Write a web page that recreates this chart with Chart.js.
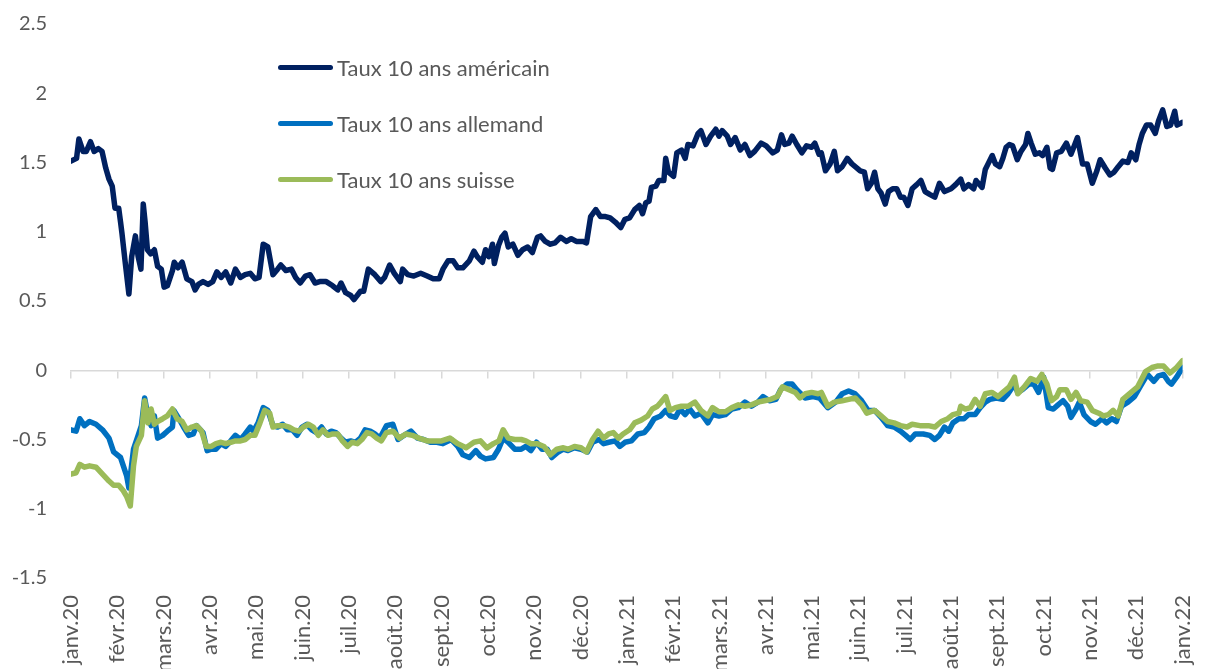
<!DOCTYPE html>
<html>
<head>
<meta charset="utf-8">
<script src="https://cdn.jsdelivr.net/npm/chart.js@4.4.1/dist/chart.umd.min.js"></script>
<style>
  html, body { margin: 0; padding: 0; background: #fff; }
  #wrap { position: relative; width: 1226px; height: 669px; overflow: hidden; }
  #legend { position: absolute; left: 278px; top: 53px; font-family: Lato, sans-serif; font-size: 22px; color: #595959; }
  .item { display: flex; align-items: center; height: 28px; margin-bottom: 28px; white-space: nowrap; }
  .swatch { width: 55px; height: 5px; border-radius: 3px; margin-right: 4px; }
</style>
</head>
<body>
<div id="wrap">
  <canvas id="chart" width="1226" height="669"></canvas>
  <div id="legend"></div>
</div>
<script>
// x = months since janv.20
const monthLabels = ['janv.20', 'févr.20', 'mars.20', 'avr.20', 'mai.20', 'juin.20', 'juil.20', 'août.20', 'sept.20', 'oct.20', 'nov.20', 'déc.20',
  'janv.21', 'févr.21', 'mars.21', 'avr.21', 'mai.21', 'juin.21', 'juil.21', 'août.21', 'sept.21', 'oct.21', 'nov.21', 'déc.21', 'janv.22'];

const seriesNames = ['Taux 10 ans américain', 'Taux 10 ans allemand', 'Taux 10 ans suisse'];

const usRate = [[0,1.51],[0.12,1.53],[0.17,1.67],[0.26,1.58],[0.33,1.58],[0.42,1.65],[0.50,1.58],[0.59,1.60],[0.67,1.58],[0.75,1.46],
  [0.82,1.38],[0.89,1.33],[0.95,1.17],[1.03,1.17],[1.07,1.07],[1.10,0.99],[1.17,0.78],[1.25,0.55],[1.31,0.82],[1.39,0.97],
  [1.45,0.82],[1.51,0.73],[1.56,1.20],[1.60,1.07],[1.65,0.87],[1.72,0.84],[1.80,0.87],[1.87,0.75],[1.95,0.73],[2.01,0.60],
  [2.08,0.61],[2.19,0.72],[2.23,0.78],[2.31,0.74],[2.40,0.78],[2.50,0.66],[2.61,0.64],[2.68,0.58],[2.75,0.62],[2.85,0.64],
  [2.96,0.62],[3.06,0.64],[3.15,0.71],[3.24,0.67],[3.34,0.71],[3.45,0.63],[3.55,0.73],[3.66,0.67],[3.76,0.69],[3.87,0.70],
  [3.97,0.66],[4.06,0.67],[4.15,0.91],[4.25,0.89],[4.36,0.69],[4.46,0.73],[4.53,0.76],[4.64,0.72],[4.76,0.73],[4.85,0.67],
  [4.95,0.63],[5.06,0.68],[5.16,0.69],[5.27,0.63],[5.37,0.64],[5.51,0.64],[5.65,0.61],[5.76,0.58],[5.83,0.63],[5.93,0.56],
  [6.04,0.54],[6.11,0.51],[6.25,0.57],[6.32,0.57],[6.42,0.73],[6.56,0.69],[6.69,0.64],[6.77,0.67],[6.88,0.76],[6.98,0.70],
  [7.11,0.64],[7.16,0.73],[7.27,0.69],[7.40,0.68],[7.55,0.70],[7.69,0.68],[7.82,0.66],[7.95,0.66],[8.03,0.73],[8.14,0.79],
  [8.25,0.79],[8.35,0.74],[8.46,0.74],[8.60,0.79],[8.70,0.86],[8.77,0.82],[8.88,0.78],[8.95,0.87],[9.02,0.82],[9.10,0.91],
  [9.14,0.77],[9.23,0.90],[9.30,0.96],[9.37,0.99],[9.44,0.89],[9.54,0.91],[9.65,0.83],[9.75,0.87],[9.86,0.89],[9.96,0.85],
  [10.07,0.96],[10.14,0.97],[10.24,0.93],[10.35,0.91],[10.45,0.92],[10.57,0.96],[10.70,0.93],[10.80,0.95],[10.91,0.93],[11.05,0.93],
  [11.13,0.92],[11.22,1.11],[11.33,1.16],[11.43,1.11],[11.54,1.11],[11.64,1.10],[11.75,1.07],[11.87,1.03],[11.96,1.09],[12.06,1.10],
  [12.17,1.16],[12.27,1.19],[12.34,1.13],[12.41,1.21],[12.48,1.22],[12.53,1.32],[12.63,1.33],[12.69,1.37],[12.80,1.37],[12.84,1.53],
  [12.90,1.43],[13.01,1.40],[13.08,1.57],[13.18,1.59],[13.26,1.53],[13.32,1.63],[13.43,1.62],[13.54,1.71],[13.60,1.73],[13.71,1.63],
  [13.81,1.69],[13.92,1.74],[13.99,1.69],[14.06,1.73],[14.17,1.69],[14.24,1.63],[14.34,1.68],[14.45,1.59],[14.55,1.63],[14.66,1.55],
  [14.76,1.58],[14.90,1.64],[15.01,1.62],[15.15,1.57],[15.25,1.59],[15.34,1.70],[15.41,1.63],[15.50,1.64],[15.57,1.69],[15.67,1.63],
  [15.78,1.57],[15.88,1.62],[15.99,1.61],[16.06,1.64],[16.15,1.56],[16.20,1.57],[16.29,1.44],[16.39,1.49],[16.48,1.58],[16.55,1.44],
  [16.65,1.47],[16.76,1.53],[16.86,1.49],[16.97,1.46],[17.04,1.44],[17.13,1.43],[17.20,1.31],[17.28,1.35],[17.35,1.43],[17.42,1.31],
  [17.49,1.28],[17.58,1.20],[17.65,1.29],[17.74,1.31],[17.83,1.31],[17.91,1.25],[17.98,1.25],[18.07,1.19],[18.16,1.31],[18.26,1.34],
  [18.35,1.37],[18.44,1.29],[18.54,1.27],[18.65,1.25],[18.75,1.35],[18.86,1.29],[19.00,1.31],[19.10,1.34],[19.21,1.38],[19.28,1.31],
  [19.38,1.34],[19.49,1.31],[19.54,1.37],[19.67,1.32],[19.74,1.45],[19.80,1.49],[19.89,1.55],[19.96,1.49],[20.05,1.47],[20.12,1.53],
  [20.19,1.61],[20.26,1.63],[20.33,1.62],[20.43,1.52],[20.51,1.58],[20.61,1.63],[20.66,1.71],[20.73,1.64],[20.82,1.56],[20.91,1.57],
  [20.98,1.55],[21.07,1.61],[21.14,1.46],[21.19,1.45],[21.28,1.57],[21.38,1.58],[21.49,1.64],[21.59,1.56],[21.66,1.62],[21.73,1.68],
  [21.84,1.49],[21.94,1.49],[22.05,1.35],[22.15,1.44],[22.22,1.52],[22.33,1.46],[22.43,1.41],[22.52,1.43],[22.61,1.47],[22.71,1.51],
  [22.82,1.50],[22.89,1.57],[22.99,1.52],[23.06,1.63],[23.13,1.71],[23.22,1.77],[23.31,1.77],[23.41,1.71],[23.48,1.80],[23.57,1.88],
  [23.66,1.76],[23.74,1.77],[23.83,1.87],[23.88,1.77],[24.00,1.79]];

const deRate = [[0,-0.43],[0.11,-0.44],[0.19,-0.35],[0.29,-0.40],[0.40,-0.37],[0.54,-0.39],[0.68,-0.43],[0.82,-0.49],[0.92,-0.59],[1.07,-0.63],
  [1.13,-0.69],[1.20,-0.76],[1.25,-0.85],[1.35,-0.57],[1.45,-0.47],[1.52,-0.40],[1.59,-0.20],[1.66,-0.33],[1.73,-0.40],[1.80,-0.33],
  [1.87,-0.49],[1.98,-0.47],[2.08,-0.44],[2.19,-0.41],[2.22,-0.29],[2.33,-0.35],[2.43,-0.41],[2.54,-0.47],[2.64,-0.46],[2.71,-0.40],
  [2.85,-0.45],[2.94,-0.58],[3.03,-0.57],[3.13,-0.57],[3.24,-0.53],[3.34,-0.55],[3.45,-0.51],[3.55,-0.47],[3.66,-0.50],[3.76,-0.46],
  [3.87,-0.41],[3.94,-0.44],[4.04,-0.38],[4.15,-0.27],[4.25,-0.29],[4.36,-0.40],[4.46,-0.41],[4.57,-0.39],[4.67,-0.43],[4.78,-0.43],
  [4.88,-0.47],[4.99,-0.41],[5.09,-0.39],[5.20,-0.43],[5.30,-0.45],[5.41,-0.41],[5.51,-0.46],[5.62,-0.44],[5.72,-0.45],[5.83,-0.49],
  [5.93,-0.52],[6.04,-0.51],[6.14,-0.52],[6.25,-0.49],[6.35,-0.43],[6.46,-0.44],[6.56,-0.46],[6.67,-0.49],[6.81,-0.40],[6.95,-0.39],
  [7.06,-0.50],[7.19,-0.47],[7.34,-0.44],[7.48,-0.49],[7.61,-0.50],[7.76,-0.52],[7.90,-0.52],[8.03,-0.53],[8.21,-0.50],[8.35,-0.55],
  [8.46,-0.61],[8.60,-0.63],[8.74,-0.58],[8.84,-0.62],[8.95,-0.64],[9.12,-0.63],[9.23,-0.57],[9.33,-0.49],[9.44,-0.52],[9.58,-0.57],
  [9.72,-0.57],[9.82,-0.55],[9.93,-0.58],[10.05,-0.52],[10.17,-0.57],[10.28,-0.57],[10.38,-0.63],[10.52,-0.59],[10.63,-0.57],[10.73,-0.58],
  [10.87,-0.56],[11.01,-0.57],[11.15,-0.59],[11.26,-0.52],[11.40,-0.50],[11.50,-0.53],[11.61,-0.52],[11.75,-0.51],[11.85,-0.55],[11.96,-0.52],
  [12.10,-0.51],[12.24,-0.46],[12.38,-0.45],[12.48,-0.41],[12.59,-0.35],[12.73,-0.33],[12.84,-0.29],[12.94,-0.33],[13.05,-0.34],[13.15,-0.28],
  [13.26,-0.32],[13.36,-0.28],[13.47,-0.33],[13.60,-0.31],[13.75,-0.38],[13.85,-0.32],[13.99,-0.33],[14.13,-0.32],[14.27,-0.28],[14.41,-0.27],
  [14.55,-0.23],[14.69,-0.26],[14.83,-0.23],[14.94,-0.19],[15.08,-0.22],[15.22,-0.21],[15.32,-0.14],[15.46,-0.10],[15.57,-0.10],[15.67,-0.14],
  [15.85,-0.20],[16.02,-0.19],[16.16,-0.20],[16.34,-0.27],[16.51,-0.23],[16.65,-0.17],[16.79,-0.15],[16.93,-0.17],[17.07,-0.22],[17.21,-0.29],
  [17.35,-0.29],[17.49,-0.34],[17.63,-0.40],[17.77,-0.41],[17.91,-0.44],[18.02,-0.47],[18.12,-0.50],[18.23,-0.46],[18.40,-0.46],[18.54,-0.47],
  [18.65,-0.50],[18.75,-0.47],[18.86,-0.41],[18.95,-0.44],[19.04,-0.38],[19.17,-0.35],[19.28,-0.35],[19.38,-0.32],[19.52,-0.32],[19.63,-0.27],
  [19.74,-0.23],[19.84,-0.21],[19.98,-0.20],[20.12,-0.21],[20.23,-0.17],[20.37,-0.10],[20.44,-0.16],[20.54,-0.14],[20.68,-0.10],[20.79,-0.10],
  [20.89,-0.16],[21.00,-0.05],[21.10,-0.27],[21.21,-0.28],[21.31,-0.25],[21.42,-0.22],[21.52,-0.26],[21.59,-0.34],[21.70,-0.28],[21.77,-0.23],
  [21.87,-0.32],[22.01,-0.37],[22.12,-0.39],[22.26,-0.35],[22.36,-0.38],[22.47,-0.35],[22.57,-0.37],[22.68,-0.26],[22.82,-0.23],[22.96,-0.19],
  [23.10,-0.11],[23.24,-0.03],[23.38,-0.08],[23.48,-0.04],[23.59,-0.03],[23.69,-0.08],[23.76,-0.10],[23.87,-0.05],[24.00,0.02]];

const chRate = [[0,-0.75],[0.11,-0.74],[0.19,-0.68],[0.29,-0.70],[0.40,-0.69],[0.54,-0.70],[0.68,-0.75],[0.82,-0.80],[0.92,-0.83],[1.03,-0.83],
  [1.13,-0.87],[1.20,-0.91],[1.28,-0.98],[1.35,-0.69],[1.41,-0.55],[1.52,-0.47],[1.59,-0.22],[1.66,-0.38],[1.73,-0.28],[1.80,-0.39],
  [1.87,-0.37],[1.98,-0.35],[2.08,-0.33],[2.19,-0.28],[2.29,-0.35],[2.40,-0.37],[2.50,-0.43],[2.61,-0.41],[2.71,-0.40],[2.82,-0.44],
  [2.92,-0.55],[3.03,-0.55],[3.13,-0.53],[3.24,-0.52],[3.34,-0.53],[3.45,-0.52],[3.55,-0.51],[3.66,-0.51],[3.76,-0.50],[3.87,-0.47],
  [3.97,-0.47],[4.08,-0.38],[4.18,-0.29],[4.29,-0.31],[4.36,-0.41],[4.46,-0.40],[4.60,-0.40],[4.71,-0.41],[4.81,-0.43],[4.92,-0.44],
  [5.02,-0.41],[5.13,-0.39],[5.23,-0.41],[5.34,-0.47],[5.44,-0.43],[5.55,-0.47],[5.65,-0.46],[5.76,-0.46],[5.86,-0.51],[5.97,-0.55],
  [6.07,-0.52],[6.18,-0.53],[6.28,-0.50],[6.39,-0.45],[6.49,-0.46],[6.60,-0.49],[6.70,-0.51],[6.81,-0.45],[6.95,-0.44],[7.09,-0.49],
  [7.23,-0.46],[7.37,-0.47],[7.51,-0.49],[7.69,-0.51],[7.82,-0.51],[8.00,-0.51],[8.18,-0.49],[8.35,-0.53],[8.53,-0.56],[8.70,-0.52],
  [8.84,-0.51],[8.98,-0.56],[9.12,-0.53],[9.24,-0.51],[9.33,-0.43],[9.44,-0.49],[9.58,-0.50],[9.72,-0.50],[9.82,-0.51],[9.93,-0.53],
  [10.07,-0.53],[10.21,-0.55],[10.35,-0.61],[10.49,-0.57],[10.63,-0.56],[10.73,-0.57],[10.87,-0.55],[11.01,-0.56],[11.13,-0.59],[11.26,-0.50],
  [11.38,-0.44],[11.50,-0.49],[11.61,-0.46],[11.71,-0.45],[11.82,-0.49],[11.92,-0.46],[12.06,-0.43],[12.17,-0.38],[12.31,-0.36],[12.45,-0.33],
  [12.55,-0.28],[12.66,-0.26],[12.74,-0.23],[12.84,-0.19],[12.93,-0.29],[13.05,-0.27],[13.18,-0.26],[13.32,-0.26],[13.47,-0.23],[13.60,-0.29],
  [13.75,-0.33],[13.85,-0.27],[13.99,-0.30],[14.13,-0.30],[14.27,-0.27],[14.41,-0.25],[14.55,-0.26],[14.69,-0.25],[14.83,-0.23],[14.97,-0.22],
  [15.11,-0.21],[15.25,-0.19],[15.36,-0.12],[15.50,-0.14],[15.64,-0.16],[15.74,-0.20],[15.85,-0.17],[15.99,-0.16],[16.13,-0.17],[16.20,-0.16],
  [16.34,-0.26],[16.48,-0.23],[16.65,-0.22],[16.79,-0.21],[16.93,-0.20],[17.07,-0.25],[17.18,-0.31],[17.35,-0.29],[17.49,-0.33],[17.63,-0.37],
  [17.77,-0.38],[17.91,-0.40],[18.05,-0.41],[18.16,-0.39],[18.33,-0.40],[18.51,-0.40],[18.65,-0.41],[18.79,-0.37],[18.93,-0.35],[19.04,-0.32],
  [19.17,-0.31],[19.21,-0.26],[19.31,-0.28],[19.42,-0.27],[19.52,-0.21],[19.63,-0.26],[19.74,-0.17],[19.88,-0.16],[20.02,-0.19],[20.12,-0.16],
  [20.26,-0.12],[20.37,-0.05],[20.44,-0.17],[20.58,-0.12],[20.72,-0.06],[20.86,-0.08],[20.96,-0.03],[21.07,-0.10],[21.17,-0.22],[21.28,-0.19],
  [21.35,-0.14],[21.49,-0.14],[21.59,-0.21],[21.70,-0.16],[21.80,-0.22],[21.94,-0.23],[22.05,-0.29],[22.19,-0.31],[22.29,-0.33],[22.40,-0.32],
  [22.50,-0.29],[22.61,-0.33],[22.71,-0.21],[22.85,-0.17],[23.03,-0.12],[23.20,-0.01],[23.34,0.02],[23.45,0.03],[23.59,0.03],[23.73,-0.02],
  [23.87,0.02],[24.00,0.07]];

const colors = ['#002060', '#0070C0', '#9BBB59'];
const textColor = '#595959';

const toXY = arr => arr.map(p => ({ x: p[0], y: p[1] }));

const chart = new Chart(document.getElementById('chart'), {
  type: 'line',
  data: {
    datasets: [usRate, deRate, chRate].map((s, i) => ({
      label: seriesNames[i],
      data: toXY(s),
      borderColor: colors[i],
      backgroundColor: colors[i],
      borderWidth: 5.5,
      pointRadius: 0,
      tension: 0,
      borderJoinStyle: 'round',
      borderCapStyle: 'round',
      xAxisID: 'x',
      order: 2 - i
    }))
  },
  options: {
    responsive: false,
    animation: false,
    layout: { padding: { top: 24, right: 13, left: 0, bottom: 0 } },
    plugins: { legend: { display: false }, tooltip: { enabled: false } },
    scales: {
      x: {
        type: 'linear',
        position: 'bottom',
        min: 0,
        max: 24,
        afterFit: scale => { scale.height = 91; },
        grid: { display: false, drawTicks: false },
        border: { display: false },
        ticks: {
          stepSize: 1,
          autoSkip: false,
          minRotation: 90,
          maxRotation: 90,
          padding: 17,
          color: textColor,
          font: { family: 'Lato, sans-serif', size: 22 },
          callback: v => monthLabels[Math.round(v)]
        }
      },
      x0: {
        type: 'linear',
        axis: 'x',
        position: { y: 0 },
        min: 0,
        max: 24,
        grid: { drawOnChartArea: false, drawTicks: true, tickLength: 7, color: '#d9d9d9', lineWidth: 1.5 },
        border: { display: true, color: '#d9d9d9', width: 1.5 },
        ticks: { stepSize: 1, display: false }
      },
      y: {
        min: -1.5,
        max: 2.5,
        afterFit: scale => { scale.width = 71; scale.paddingTop = 0; scale.paddingBottom = 0; },
        grid: { display: false, drawTicks: false },
        border: { display: false },
        ticks: {
          stepSize: 0.5,
          padding: 24,
          color: textColor,
          font: { family: 'Lato, sans-serif', size: 20 },
          callback: v => String(v)
        }
      }
    }
  }
});

// legend built from the datasets
const legend = document.getElementById('legend');
chart.data.datasets.forEach(ds => {
  const item = document.createElement('div');
  item.className = 'item';
  const sw = document.createElement('span');
  sw.className = 'swatch';
  sw.style.background = ds.borderColor;
  const txt = document.createElement('span');
  txt.textContent = ds.label;
  item.appendChild(sw);
  item.appendChild(txt);
  legend.appendChild(item);
});
</script>
</body>
</html>
